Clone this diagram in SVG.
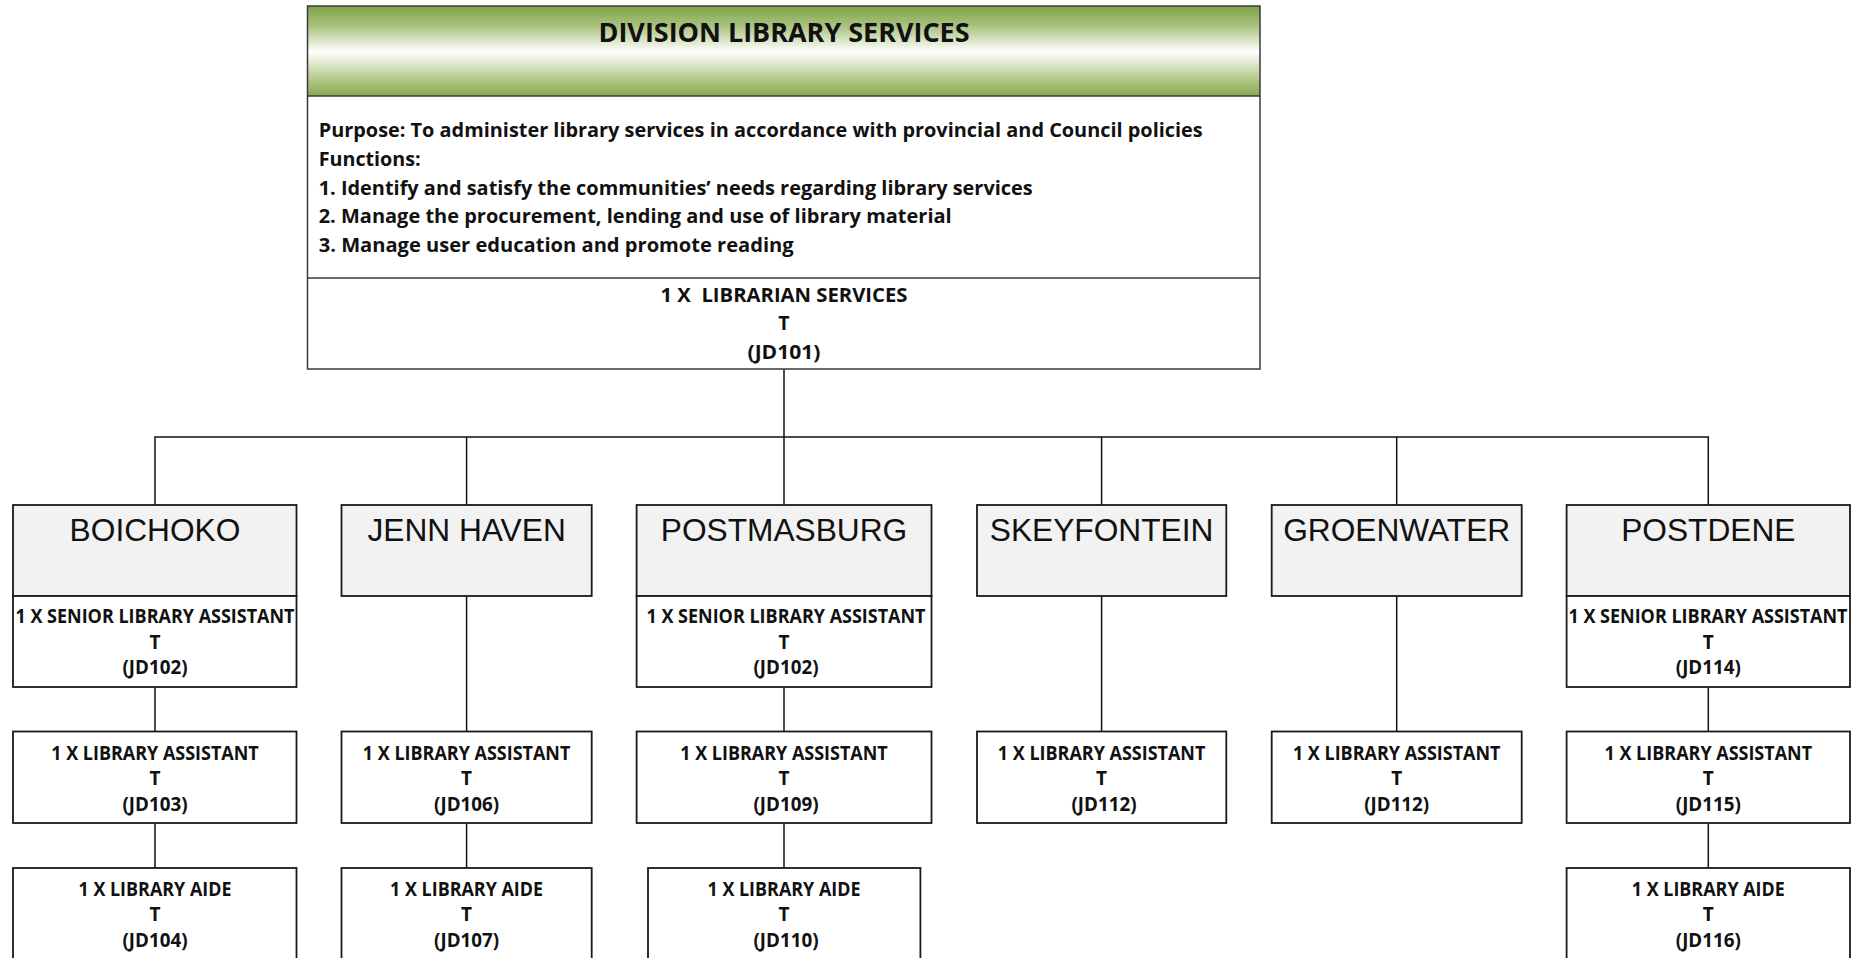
<svg xmlns="http://www.w3.org/2000/svg" width="1862" height="958" viewBox="0 0 1862 958">
  <defs>
    <linearGradient id="hdrGrad" x1="0" y1="0" x2="0" y2="1">
      <stop offset="0" stop-color="#7ea346"/>
      <stop offset="0.22" stop-color="#a9c27e"/>
      <stop offset="0.51" stop-color="#ffffff"/>
      <stop offset="0.75" stop-color="#c2d4a2"/>
      <stop offset="1" stop-color="#86a94d"/>
    </linearGradient>
    <style>
      .frame { fill: none; stroke: #3a3a3a; stroke-width: 1.5; }
      .box { fill: #ffffff; stroke: #1a1a1a; stroke-width: 1.8; }
      .site { fill: #f2f2f2; stroke: #1a1a1a; stroke-width: 1.8; }
      .name { font-family: "Liberation Sans", Arial, sans-serif; font-size: 31.7px; fill: #111; text-anchor: middle; }
      .lbl { font-family: "Open Sans", "Noto Sans", sans-serif; font-weight: bold; font-size: 19px; fill: #111; text-anchor: middle; }
      .top { font-family: "Open Sans", "Noto Sans", sans-serif; font-weight: bold; font-size: 19.5px; fill: #111; }
      .title { font-family: "Open Sans", "Noto Sans", sans-serif; font-weight: bold; font-size: 26.5px; fill: #111; text-anchor: middle; }
      .wire { fill: none; stroke: #111; stroke-width: 1.5; }
    </style>
  </defs>
  <rect width="1862" height="958" fill="#ffffff"/>

  <!-- connectors -->
  <g id="connectors">
    <line class="wire" x1="784" y1="369" x2="784" y2="437" stroke-width="2.4"/>
    <polyline class="wire" points="155,505 155,437 1708.3,437 1708.3,505" stroke-width="1.8"/>
    <line class="wire" x1="466.6" y1="437" x2="466.6" y2="505"/>
    <line class="wire" x1="784" y1="437" x2="784" y2="505"/>
    <line class="wire" x1="1101.6" y1="437" x2="1101.6" y2="505"/>
    <line class="wire" x1="1396.7" y1="437" x2="1396.7" y2="505"/>
    <!-- BOICHOKO chain -->
    <line class="wire" x1="155" y1="687" x2="155" y2="731.5"/>
    <line class="wire" x1="155" y1="823" x2="155" y2="868"/>
    <!-- JENN HAVEN chain -->
    <line class="wire" x1="466.6" y1="596" x2="466.6" y2="731.5"/>
    <line class="wire" x1="466.6" y1="823" x2="466.6" y2="868"/>
    <!-- POSTMASBURG chain -->
    <line class="wire" x1="784" y1="687" x2="784" y2="731.5"/>
    <line class="wire" x1="784" y1="823" x2="784" y2="868" stroke-width="2"/>
    <!-- SKEYFONTEIN / GROENWATER -->
    <line class="wire" x1="1101.6" y1="596" x2="1101.6" y2="731.5"/>
    <line class="wire" x1="1396.7" y1="596" x2="1396.7" y2="731.5"/>
    <!-- POSTDENE chain -->
    <line class="wire" x1="1708.3" y1="687" x2="1708.3" y2="731.5"/>
    <line class="wire" x1="1708.3" y1="823" x2="1708.3" y2="868"/>
  </g>

  <!-- division head -->
  <g id="division">
    <rect x="307.5" y="6" width="952.5" height="90" fill="url(#hdrGrad)"/>
    <rect x="307.5" y="96" width="952.5" height="273" fill="#ffffff"/>
    <rect class="frame" x="307.5" y="6" width="952.5" height="363"/>
    <line class="frame" x1="307.5" y1="96" x2="1260" y2="96"/>
    <line class="frame" x1="307.5" y1="278" x2="1260" y2="278"/>
    <text class="title" x="784" y="41.7" textLength="371" lengthAdjust="spacingAndGlyphs">DIVISION LIBRARY SERVICES</text>
    <text class="top" x="318.7" y="136.5" textLength="884" lengthAdjust="spacingAndGlyphs">Purpose: To administer library services in accordance with provincial and Council policies</text>
    <text class="top" x="318.7" y="165.5" textLength="102" lengthAdjust="spacingAndGlyphs">Functions:</text>
    <text class="top" x="318.7" y="194.5" textLength="714" lengthAdjust="spacingAndGlyphs">1. Identify and satisfy the communities’ needs regarding library services</text>
    <text class="top" x="318.7" y="223.3" textLength="633" lengthAdjust="spacingAndGlyphs">2. Manage the procurement, lending and use of library material</text>
    <text class="top" x="318.7" y="252.2" textLength="475" lengthAdjust="spacingAndGlyphs">3. Manage user education and promote reading</text>
    <text class="top" x="784" y="301.5" text-anchor="middle" textLength="247" lengthAdjust="spacingAndGlyphs" xml:space="preserve">1 X  LIBRARIAN SERVICES</text>
    <text class="top" x="784" y="330" text-anchor="middle">T</text>
    <text class="top" x="784" y="358.5" text-anchor="middle" textLength="73" lengthAdjust="spacingAndGlyphs">(JD101)</text>
  </g>

  <!-- BOICHOKO -->
  <g id="boichoko">
    <rect class="site" x="13" y="505" width="283.5" height="91"/>
    <text class="name" x="155" y="541">BOICHOKO</text>
    <rect class="box" x="13" y="596" width="283.5" height="91"/>
    <text class="lbl" x="155" y="622.7" textLength="279" lengthAdjust="spacingAndGlyphs">1 X SENIOR LIBRARY ASSISTANT</text>
    <text class="lbl" x="155" y="648.5">T</text>
    <text class="lbl" x="155" y="674" textLength="65" lengthAdjust="spacingAndGlyphs">(JD102)</text>
  </g>
  <g id="boichoko-assistant">
    <rect class="box" x="13" y="731.5" width="283.5" height="91.5"/>
    <text class="lbl" x="155" y="760" textLength="207.5" lengthAdjust="spacingAndGlyphs">1 X LIBRARY ASSISTANT</text>
    <text class="lbl" x="155" y="785">T</text>
    <text class="lbl" x="155" y="810.7" textLength="65" lengthAdjust="spacingAndGlyphs">(JD103)</text>
  </g>
  <g id="boichoko-aide">
    <rect class="box" x="13" y="868" width="283.5" height="100"/>
    <text class="lbl" x="155" y="896" textLength="153" lengthAdjust="spacingAndGlyphs">1 X LIBRARY AIDE</text>
    <text class="lbl" x="155" y="921">T</text>
    <text class="lbl" x="155" y="946.5" textLength="65" lengthAdjust="spacingAndGlyphs">(JD104)</text>
  </g>

  <!-- JENN HAVEN -->
  <g id="jenn-haven">
    <rect class="site" x="341.5" y="505" width="250.2" height="91"/>
    <text class="name" x="466.6" y="541">JENN HAVEN</text>
  </g>
  <g id="jenn-haven-assistant">
    <rect class="box" x="341.5" y="731.5" width="250.2" height="91.5"/>
    <text class="lbl" x="466.6" y="760" textLength="207.5" lengthAdjust="spacingAndGlyphs">1 X LIBRARY ASSISTANT</text>
    <text class="lbl" x="466.6" y="785">T</text>
    <text class="lbl" x="466.6" y="810.7" textLength="65" lengthAdjust="spacingAndGlyphs">(JD106)</text>
  </g>
  <g id="jenn-haven-aide">
    <rect class="box" x="341.5" y="868" width="250.2" height="100"/>
    <text class="lbl" x="466.6" y="896" textLength="153" lengthAdjust="spacingAndGlyphs">1 X LIBRARY AIDE</text>
    <text class="lbl" x="466.6" y="921">T</text>
    <text class="lbl" x="466.6" y="946.5" textLength="65" lengthAdjust="spacingAndGlyphs">(JD107)</text>
  </g>

  <!-- POSTMASBURG -->
  <g id="postmasburg">
    <rect class="site" x="636.6" y="505" width="294.9" height="91"/>
    <text class="name" x="784" y="541">POSTMASBURG</text>
    <rect class="box" x="636.6" y="596" width="294.9" height="91"/>
    <text class="lbl" x="786" y="622.7" textLength="279" lengthAdjust="spacingAndGlyphs">1 X SENIOR LIBRARY ASSISTANT</text>
    <text class="lbl" x="784" y="648.5">T</text>
    <text class="lbl" x="786" y="674" textLength="65" lengthAdjust="spacingAndGlyphs">(JD102)</text>
  </g>
  <g id="postmasburg-assistant">
    <rect class="box" x="636.6" y="731.5" width="294.9" height="91.5"/>
    <text class="lbl" x="784" y="760" textLength="207.5" lengthAdjust="spacingAndGlyphs">1 X LIBRARY ASSISTANT</text>
    <text class="lbl" x="784" y="785">T</text>
    <text class="lbl" x="786" y="810.7" textLength="65" lengthAdjust="spacingAndGlyphs">(JD109)</text>
  </g>
  <g id="postmasburg-aide">
    <rect class="box" x="648" y="868" width="272.4" height="100"/>
    <text class="lbl" x="784" y="896" textLength="153" lengthAdjust="spacingAndGlyphs">1 X LIBRARY AIDE</text>
    <text class="lbl" x="784" y="921">T</text>
    <text class="lbl" x="786" y="946.5" textLength="65" lengthAdjust="spacingAndGlyphs">(JD110)</text>
  </g>

  <!-- SKEYFONTEIN -->
  <g id="skeyfontein">
    <rect class="site" x="977" y="505" width="249.3" height="91"/>
    <text class="name" x="1101.6" y="541">SKEYFONTEIN</text>
  </g>
  <g id="skeyfontein-assistant">
    <rect class="box" x="977" y="731.5" width="249.3" height="91.5"/>
    <text class="lbl" x="1101.6" y="760" textLength="207.5" lengthAdjust="spacingAndGlyphs">1 X LIBRARY ASSISTANT</text>
    <text class="lbl" x="1101.6" y="785">T</text>
    <text class="lbl" x="1104" y="810.7" textLength="65" lengthAdjust="spacingAndGlyphs">(JD112)</text>
  </g>

  <!-- GROENWATER -->
  <g id="groenwater">
    <rect class="site" x="1271.7" y="505" width="250" height="91"/>
    <text class="name" x="1396.7" y="541">GROENWATER</text>
  </g>
  <g id="groenwater-assistant">
    <rect class="box" x="1271.7" y="731.5" width="250" height="91.5"/>
    <text class="lbl" x="1396.7" y="760" textLength="207.5" lengthAdjust="spacingAndGlyphs">1 X LIBRARY ASSISTANT</text>
    <text class="lbl" x="1396.7" y="785">T</text>
    <text class="lbl" x="1396.7" y="810.7" textLength="65" lengthAdjust="spacingAndGlyphs">(JD112)</text>
  </g>

  <!-- POSTDENE -->
  <g id="postdene">
    <rect class="site" x="1566.6" y="505" width="283.4" height="91"/>
    <text class="name" x="1708.3" y="541">POSTDENE</text>
    <rect class="box" x="1566.6" y="596" width="283.4" height="91"/>
    <text class="lbl" x="1708" y="622.7" textLength="279" lengthAdjust="spacingAndGlyphs">1 X SENIOR LIBRARY ASSISTANT</text>
    <text class="lbl" x="1708.3" y="648.5">T</text>
    <text class="lbl" x="1708.3" y="674" textLength="65" lengthAdjust="spacingAndGlyphs">(JD114)</text>
  </g>
  <g id="postdene-assistant">
    <rect class="box" x="1566.6" y="731.5" width="283.4" height="91.5"/>
    <text class="lbl" x="1708.3" y="760" textLength="207.5" lengthAdjust="spacingAndGlyphs">1 X LIBRARY ASSISTANT</text>
    <text class="lbl" x="1708.3" y="785">T</text>
    <text class="lbl" x="1708.3" y="810.7" textLength="65" lengthAdjust="spacingAndGlyphs">(JD115)</text>
  </g>
  <g id="postdene-aide">
    <rect class="box" x="1566.6" y="868" width="283.4" height="100"/>
    <text class="lbl" x="1708.3" y="896" textLength="153" lengthAdjust="spacingAndGlyphs">1 X LIBRARY AIDE</text>
    <text class="lbl" x="1708.3" y="921">T</text>
    <text class="lbl" x="1708.3" y="946.5" textLength="65" lengthAdjust="spacingAndGlyphs">(JD116)</text>
  </g>
</svg>
